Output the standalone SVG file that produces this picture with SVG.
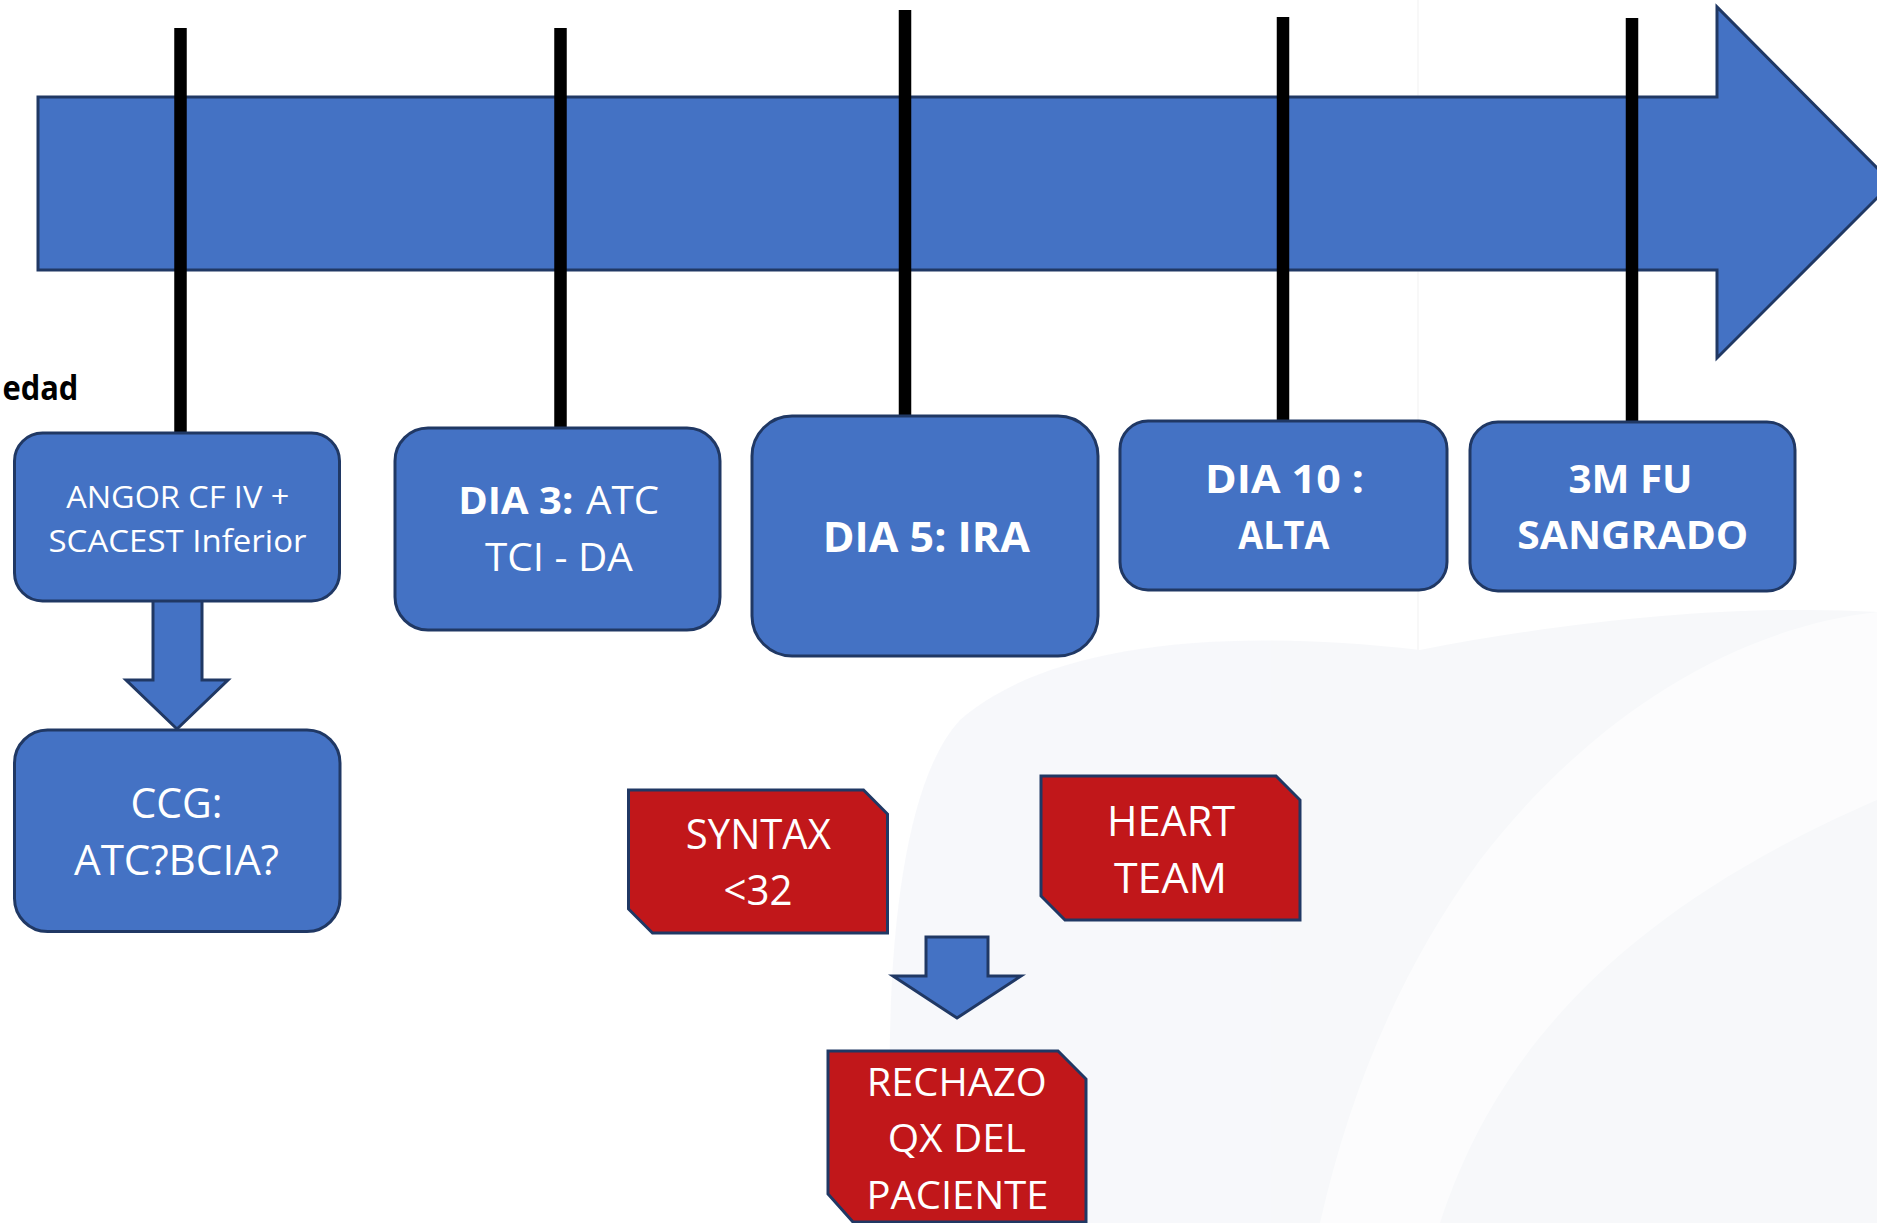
<svg xmlns="http://www.w3.org/2000/svg" width="1877" height="1223" viewBox="0 0 1877 1223">
  <style>
    .bg { fill: #ffffff; }
    .blue { fill: #4472C4; stroke: #203864; stroke-width: 3; }
    .red { fill: #C1171A; stroke: #203864; stroke-width: 3; }
    .tick { stroke: #000000; stroke-width: 12.5; }
    .t { font-family: "Open Sans", "Liberation Sans", sans-serif; fill: #ffffff; text-anchor: middle; }
    .b { font-weight: bold; }
  </style>
  <rect class="bg" x="0" y="0" width="1877" height="1223"/>
  <!-- faint watermark background -->
  <g id="watermark" opacity="0.55">
    <line x1="1418" y1="0" x2="1418" y2="1223" stroke="#f4f4f4" stroke-width="2"/>
    <path d="M895 1223 C880 1000 895 790 960 720 C1040 650 1200 625 1420 650 C1600 615 1760 605 1877 612 L1877 1223 Z" fill="#f1f3f7"/>
    <path d="M1877 612 C1720 630 1580 730 1480 860 C1400 970 1350 1090 1320 1223 L1440 1223 C1490 1070 1600 920 1877 800 Z" fill="#fafbfc"/>
  </g>

  <g id="timeline">
    <path class="blue" d="M38 97 L1717 97 L1717 7 L1892 183 L1717 358 L1717 270 L38 270 Z"/>
  </g>

  <g id="connectors">
    <line class="tick" x1="180.5" y1="28" x2="180.5" y2="433"/>
    <line class="tick" x1="560.5" y1="28" x2="560.5" y2="428"/>
    <line class="tick" x1="905" y1="10" x2="905" y2="416"/>
    <line class="tick" x1="1283" y1="17" x2="1283" y2="422"/>
    <line class="tick" x1="1632" y1="18" x2="1632" y2="423"/>
    <path class="blue" d="M153 600 L202 600 L202 680 L228 680 L177 729 L126 680 L153 680 Z"/>
    <path class="blue" d="M926 937 L988 937 L988 976 L1021 976 L957 1018 L893 976 L926 976 Z"/>
  </g>

  <text x="2.4" y="400" font-family="Open Sans, Liberation Sans, sans-serif" font-weight="bold" font-size="34" fill="#000000" textLength="76" lengthAdjust="spacingAndGlyphs">edad</text>

  <g id="node-angor">
    <rect class="blue" x="14.5" y="433" width="325" height="168" rx="28" ry="28"/>
    <text class="t" x="177.7" y="507.7" font-size="31" textLength="223" lengthAdjust="spacingAndGlyphs">ANGOR CF IV +</text>
    <text class="t" x="177.5" y="552" font-size="31" textLength="258" lengthAdjust="spacingAndGlyphs">SCACEST  Inferior</text>
  </g>

  <g id="node-ccg">
    <rect class="blue" x="14.5" y="730" width="325.5" height="201.5" rx="33" ry="33"/>
    <text class="t" x="176.5" y="817.5" font-size="42" textLength="92" lengthAdjust="spacingAndGlyphs">CCG:</text>
    <text class="t" x="176.5" y="875" font-size="42" textLength="205" lengthAdjust="spacingAndGlyphs">ATC?BCIA?</text>
  </g>

  <g id="node-dia3">
    <rect class="blue" x="395" y="428" width="325" height="202" rx="33" ry="33"/>
    <text x="458.3" y="514.3" font-family="Open Sans, Liberation Sans, sans-serif" font-size="38" fill="#ffffff"><tspan font-weight="bold" x="458.3" textLength="115" lengthAdjust="spacingAndGlyphs">DIA 3:</tspan><tspan x="586" textLength="73" lengthAdjust="spacingAndGlyphs">ATC</tspan></text>
    <text class="t" x="558.9" y="571" font-size="38" textLength="148" lengthAdjust="spacingAndGlyphs">TCI - DA</text>
  </g>

  <g id="node-dia5">
    <rect class="blue" x="752" y="416" width="346" height="240" rx="40" ry="40"/>
    <text class="t b" x="926.3" y="551.7" font-size="41" textLength="207" lengthAdjust="spacingAndGlyphs">DIA 5:  IRA</text>
  </g>

  <g id="node-dia10">
    <rect class="blue" x="1120" y="421" width="327" height="169" rx="28" ry="28"/>
    <text class="t b" x="1284.5" y="492.7" font-size="40" textLength="159" lengthAdjust="spacingAndGlyphs">DIA  10 :</text>
    <text class="t b" x="1283.8" y="549.3" font-size="40" textLength="91" lengthAdjust="spacingAndGlyphs">ALTA</text>
  </g>

  <g id="node-3m">
    <rect class="blue" x="1470" y="422" width="325" height="169" rx="28" ry="28"/>
    <text class="t b" x="1630.5" y="493.3" font-size="40" textLength="124" lengthAdjust="spacingAndGlyphs">3M FU</text>
    <text class="t b" x="1632.8" y="549.3" font-size="40" textLength="231" lengthAdjust="spacingAndGlyphs">SANGRADO</text>
  </g>

  <g id="node-syntax">
    <path class="red" d="M628.5 790 L863.5 790 L887.5 814 L887.5 933 L652.5 933 L628.5 909 Z"/>
    <text class="t" x="758.3" y="849.3" font-size="42" textLength="145" lengthAdjust="spacingAndGlyphs">SYNTAX</text>
    <text class="t" x="758" y="905" font-size="42" textLength="69" lengthAdjust="spacingAndGlyphs">&lt;32</text>
  </g>

  <g id="node-heart">
    <path class="red" d="M1041 776 L1276 776 L1300 800 L1300 920 L1065 920 L1041 896 Z"/>
    <text class="t" x="1171" y="835.7" font-size="42" textLength="128" lengthAdjust="spacingAndGlyphs">HEART</text>
    <text class="t" x="1170.5" y="893.4" font-size="42" textLength="113" lengthAdjust="spacingAndGlyphs">TEAM</text>
  </g>

  <g id="node-rechazo">
    <path class="red" d="M828 1051 L1058 1051 L1086 1079 L1086 1222 L853 1222 L828 1194 Z"/>
    <text class="t" x="956.7" y="1095.7" font-size="38" textLength="180" lengthAdjust="spacingAndGlyphs">RECHAZO</text>
    <text class="t" x="956.8" y="1152.3" font-size="38" textLength="138" lengthAdjust="spacingAndGlyphs">QX DEL</text>
    <text class="t" x="957.5" y="1209" font-size="38" textLength="182" lengthAdjust="spacingAndGlyphs">PACIENTE</text>
  </g>
</svg>
